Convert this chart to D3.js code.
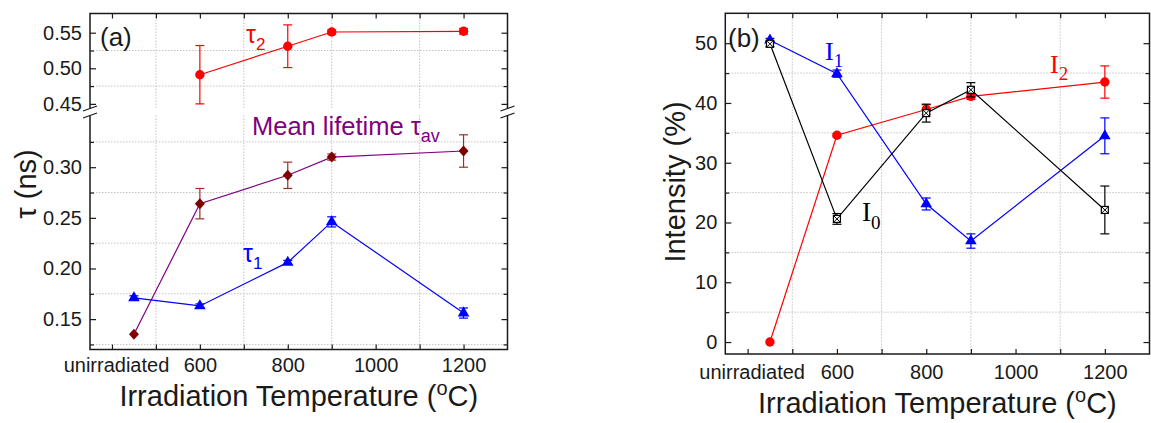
<!DOCTYPE html>
<html>
<head>
<meta charset="utf-8">
<script src="https://cdn.jsdelivr.net/npm/d3@7"></script>
<style>
  body { margin: 0; background: #fff; }
  svg { display: block; font-family: "Liberation Sans", Arial, sans-serif; }
</style>
</head>
<body>
<svg id="chart" width="1151" height="423"></svg>
<script>
// x positions of the samples (unirradiated drawn at 450)
const temps = [450, 600, 800, 900, 1200];
const xTickValues = [400, 600, 800, 1000, 1200];
const xTickLabels = ['unirradiated', '600', '800', '1000', '1200'];
const xMinorTicks = [500, 700, 900, 1100];

// panel (a): lifetimes in ns
const tau2 = [null, 0.491, 0.531, 0.551, 0.552];
const tau2Err = [0, 0.041, 0.030, 0.003, 0.004];
const tauAv = [0.135, 0.264, 0.292, 0.310, 0.316];
const tauAvErr = [0, 0.015, 0.013, 0.003, 0.016];
const tau1 = [0.171, 0.163, 0.206, 0.246, 0.156];
const tau1Err = [0.002, 0.002, 0.002, 0.005, 0.005];

const tauTicksUp = [0.45, 0.50, 0.55];
const tauMinorUp = [0.475, 0.525];
const tauTicksLow = [0.15, 0.20, 0.25, 0.30];
const tauMinorLow = [0.125, 0.175, 0.225, 0.275, 0.325];

// panel (b): intensities in %
const I0 = [49.9, 20.6, 38.3, 42.2, 22.1];
const I0Err = [0.5, 0.9, 1.5, 1.2, 4.0];
const I1 = [50.5, 44.9, 23.1, 16.9, 34.5];
const I1Err = [0.3, 0.6, 1.0, 1.2, 3.0];
const I2 = [0, 34.6, 38.9, 41.1, 43.5];
const I2Err = [0, 0.3, 0.8, 0.5, 2.7];

const intTicks = [0, 10, 20, 30, 40, 50];
const intMinor = [5, 15, 25, 35, 45];

const INK = '#1a1a1a';
const svg = d3.select('#chart');
svg.append('rect').attr('width', 1151).attr('height', 423).attr('fill', '#fff');

// ---------- helpers ----------
function styleAxis(sel, size) {
  sel.select('.domain').remove();
  sel.attr('font-family', null).attr('font-size', null);
  sel.selectAll('line').attr('stroke', INK).attr('stroke-width', 1.2);
  sel.selectAll('text').attr('fill', INK).style('font-size', size + 'px');
}

function grid(g, x, y, xs, ys, x0, x1, y0, y1) {
  const gg = g.append('g').attr('stroke', '#c4c4c4').attr('stroke-width', 1)
    .attr('stroke-dasharray', '1.5,1.5');
  xs.forEach(v => gg.append('line').attr('x1', x(v)).attr('x2', x(v)).attr('y1', y0).attr('y2', y1));
  ys.forEach(v => gg.append('line').attr('x1', x0).attr('x2', x1).attr('y1', y(v)).attr('y2', y(v)));
}

function series(g, x, y, vals, errs, opt) {
  const pts = temps.map((t, i) => ({ t, v: vals[i], e: errs[i] })).filter(d => d.v != null);
  g.append('path').datum(pts)
    .attr('d', d3.line().x(d => x(d.t)).y(d => y(d.v)))
    .attr('fill', 'none').attr('stroke', opt.line).attr('stroke-width', 1.2);
  const eb = g.append('g').attr('stroke', opt.err).attr('stroke-width', 1.2);
  pts.filter(d => d.e > 0).forEach(d => {
    const cx = x(d.t), lo = y(d.v - d.e), hi = y(d.v + d.e);
    eb.append('line').attr('x1', cx).attr('x2', cx).attr('y1', lo).attr('y2', hi);
    eb.append('line').attr('x1', cx - 4.5).attr('x2', cx + 4.5).attr('y1', lo).attr('y2', lo);
    eb.append('line').attr('x1', cx - 4.5).attr('x2', cx + 4.5).attr('y1', hi).attr('y2', hi);
  });
  const mk = g.append('g');
  pts.forEach(d => {
    const cx = x(d.t), cy = y(d.v);
    if (opt.marker === 'circle') {
      mk.append('circle').attr('cx', cx).attr('cy', cy).attr('r', 4.7).attr('fill', opt.fill);
    } else if (opt.marker === 'triangle') {
      mk.append('path').attr('transform', `translate(${cx},${cy})`)
        .attr('d', d3.symbol(d3.symbolTriangle, 58)()).attr('fill', opt.fill);
    } else if (opt.marker === 'diamond') {
      mk.append('path').attr('d', `M${cx},${cy - 5.5}L${cx + 5},${cy}L${cx},${cy + 5.5}L${cx - 5},${cy}Z`)
        .attr('fill', opt.fill);
    } else {
      mk.append('rect').attr('x', cx - 3.5).attr('y', cy - 3.5).attr('width', 7).attr('height', 7)
        .attr('fill', '#fff').attr('stroke', opt.fill).attr('stroke-width', 1.2);
      mk.append('path').attr('d', `M${cx - 3.5},${cy - 3.5}L${cx + 3.5},${cy + 3.5}M${cx + 3.5},${cy - 3.5}L${cx - 3.5},${cy + 3.5}`)
        .attr('stroke', opt.fill).attr('stroke-width', 1);
    }
  });
}

function xAxes(g, x, top, bottom, pad) {
  const b = g.append('g').attr('transform', `translate(0,${bottom})`)
    .call(d3.axisBottom(x).tickValues(xTickValues).tickSize(-5).tickPadding(pad)
      .tickFormat((d, i) => xTickLabels[i]));
  styleAxis(b, 20);
  b.selectAll('text').filter(d => d === 400).attr('dx', 4);
  styleAxis(g.append('g').attr('transform', `translate(0,${bottom})`)
    .call(d3.axisBottom(x).tickValues(xMinorTicks).tickSize(-5).tickFormat('')), 20);
  styleAxis(g.append('g').attr('transform', `translate(0,${top})`)
    .call(d3.axisTop(x).tickValues(xTickValues.concat(xMinorTicks)).tickSize(-5).tickFormat('')), 20);
}

function yAxes(g, y, ticks, minor, left, right, fmt) {
  styleAxis(g.append('g').attr('transform', `translate(${left},0)`)
    .call(d3.axisLeft(y).tickValues(ticks).tickSize(-6).tickPadding(8).tickFormat(fmt)), 20);
  styleAxis(g.append('g').attr('transform', `translate(${left},0)`)
    .call(d3.axisLeft(y).tickValues(minor).tickSize(-4).tickFormat('')), 20);
  styleAxis(g.append('g').attr('transform', `translate(${right},0)`)
    .call(d3.axisRight(y).tickValues(ticks).tickSize(-6).tickFormat('')), 20);
  styleAxis(g.append('g').attr('transform', `translate(${right},0)`)
    .call(d3.axisRight(y).tickValues(minor).tickSize(-4).tickFormat('')), 20);
}

function subText(g, x, y, main, sub, size, subSize, color, family) {
  const t = g.append('text').attr('x', x).attr('y', y).attr('fill', color)
    .style('font-size', size + 'px');
  if (family) t.style('font-family', family);
  t.append('tspan').text(main);
  t.append('tspan').attr('dy', size * 0.28).style('font-size', subSize + 'px').text(sub);
}

function xTitle(cx, y) {
  const t = svg.append('text').attr('x', cx).attr('y', y).attr('text-anchor', 'middle')
    .attr('fill', INK).style('font-size', '29px');
  t.append('tspan').text('Irradiation Temperature (');
  t.append('tspan').attr('dy', -11).style('font-size', '20px').text('o');
  t.append('tspan').attr('dy', 11).text('C)');
}

// ---------- panel (a) ----------
const A = { left: 90, right: 507.5, top: 13.5, bottom: 349.5, gapTop: 108.5, gapBot: 115.5 };
const xA = d3.scaleLinear().domain([350, 1300]).range([A.left, A.right]);
const yAUp = d3.scaleLinear().domain([0.4414, 0.577]).range([110, A.top]);
const yALow = d3.scaleLinear().domain([0.12, 0.3555]).range([A.bottom, 111]);
const yA = v => (v > 0.4 ? yAUp(v) : yALow(v));

const gA = svg.append('g');
grid(gA, xA, yAUp, xMinorTicks, tauMinorUp, A.left, A.right, A.top, A.gapTop);
grid(gA, xA, yALow, xMinorTicks, tauMinorLow, A.left, A.right, A.gapBot, A.bottom);

series(gA, xA, yA, tau2, tau2Err, { line: '#ff0000', err: '#ff0000', fill: '#ff0000', marker: 'circle' });
series(gA, xA, yA, tauAv, tauAvErr, { line: '#800080', err: '#a02c2c', fill: '#800000', marker: 'diamond' });
series(gA, xA, yA, tau1, tau1Err, { line: '#0000ff', err: '#0000ff', fill: '#0000ff', marker: 'triangle' });

// frame with axis break
const fA = gA.append('g').attr('stroke', INK).attr('stroke-width', 1.5).attr('fill', 'none');
fA.append('path').attr('d',
  `M${A.left},${A.gapTop}V${A.top}H${A.right}V${A.gapTop}` +
  `M${A.left},${A.gapBot}V${A.bottom}H${A.right}V${A.gapBot}`);
[A.left, A.right].forEach(x0 => {
  fA.append('path').attr('stroke-width', 1.2)
    .attr('d', `M${x0 - 7},${A.gapTop + 2.5}L${x0 + 7},${A.gapTop - 2.5}M${x0 - 7},${A.gapBot + 2.5}L${x0 + 7},${A.gapBot - 2.5}`);
});

xAxes(gA, xA, A.top, A.bottom, 8);
yAxes(gA, yAUp, tauTicksUp, tauMinorUp, A.left, A.right, d3.format('.2f'));
yAxes(gA, yALow, tauTicksLow, tauMinorLow, A.left, A.right, d3.format('.2f'));

gA.append('text').attr('x', 100).attr('y', 46).attr('fill', INK).style('font-size', '26px').text('(a)');
subText(gA, 246, 43, 'τ', '2', 25, 17, '#ff0000');
subText(gA, 252, 135, 'Mean lifetime τ', 'av', 25.5, 18, '#800080');
subText(gA, 243, 262, 'τ', '1', 25, 17, '#0000ff');

gA.append('text').attr('transform', 'translate(36,184) rotate(-90)').attr('text-anchor', 'middle')
  .attr('fill', INK).style('font-size', '29px').text('τ (ns)');
xTitle((A.left + A.right) / 2, 406);

// ---------- panel (b) ----------
const B = { left: 725.3, right: 1149.5, top: 13.3, bottom: 354 };
const xB = d3.scaleLinear().domain([350, 1300]).range([B.left, B.right]);
const yB = d3.scaleLinear().domain([-2, 55]).range([B.bottom, B.top]);

const gB = svg.append('g');
grid(gB, xB, yB, xMinorTicks, intMinor, B.left, B.right, B.top, B.bottom);

series(gB, xB, yB, I2, I2Err, { line: '#ff0000', err: '#ff0000', fill: '#ff0000', marker: 'circle' });
series(gB, xB, yB, I1, I1Err, { line: '#0000ff', err: '#0000ff', fill: '#0000ff', marker: 'triangle' });
series(gB, xB, yB, I0, I0Err, { line: '#000000', err: '#000000', fill: '#000000', marker: 'square' });

gB.append('rect').attr('x', B.left).attr('y', B.top)
  .attr('width', B.right - B.left).attr('height', B.bottom - B.top)
  .attr('fill', 'none').attr('stroke', INK).attr('stroke-width', 1.5);

xAxes(gB, xB, B.top, B.bottom, 11);
yAxes(gB, yB, intTicks, intMinor, B.left, B.right, d3.format('d'));

gB.append('text').attr('x', 728).attr('y', 47).attr('fill', INK).style('font-size', '26px').text('(b)');
const serif = '"Liberation Serif", "Times New Roman", serif';
subText(gB, 825, 60, 'I', '1', 26, 19, '#0000ff', serif);
subText(gB, 1050, 73, 'I', '2', 26, 19, '#ff0000', serif);
subText(gB, 862, 221, 'I', '0', 27, 19, '#000000', serif);

gB.append('text').attr('transform', 'translate(685,182) rotate(-90)').attr('text-anchor', 'middle')
  .attr('fill', INK).style('font-size', '29px').text('Intensity (%)');
xTitle((B.left + B.right) / 2, 413);
</script>
</body>
</html>
